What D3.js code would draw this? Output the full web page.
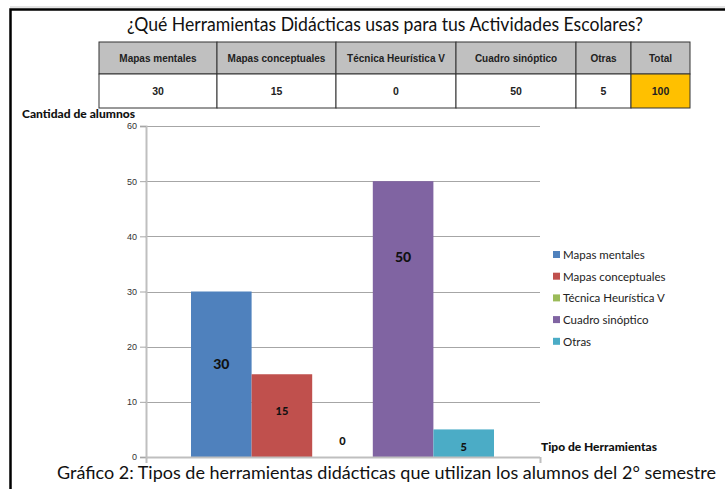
<!DOCTYPE html>
<html>
<head>
<meta charset="utf-8">
<script src="https://cdn.jsdelivr.net/npm/d3@7"></script>
<style>
  body { margin: 0; background: #fff; }
  svg { display: block; }
</style>
</head>
<body>
<div class="chart"></div>
<script>
var categories = ["Mapas mentales", "Mapas conceptuales", "Técnica Heurística V", "Cuadro sinóptico", "Otras"],
    values = [30, 15, 0, 50, 5],
    total = 100,
    // where each value label sits, in axis units (placed by hand in the original)
    labelAt = [16.8, 8.5, 3.1, 36.2, 2],
    colors = ["#4f81bd", "#c0504d", "#9bbb59", "#8064a2", "#4bacc6"],
    yTicks = [0, 10, 20, 30, 40, 50, 60],
    colWidths = [118, 119, 120, 120, 55, 59]

var width = 725,
    height = 489,
    plot = {top: 126, bottom: 457, left: 146, right: 540},
    svg = d3.select(".chart").append("svg")
      .attr("width", width)
      .attr("height", height)

// frame
svg.append("line").attr("x1", 10).attr("x2", width).attr("y1", 7).attr("y2", 7)
  .style("stroke", "#c8c8c8").style("stroke-width", 1)
svg.append("path").attr("d", "M10.5," + height + "V9.5H" + width)
  .style("fill", "none").style("stroke", "#000").style("stroke-width", 2.5)

svg.append("text")
  .text("¿Qué Herramientas Didácticas usas para tus Actividades Escolares?")
  .attr("x", 127).attr("y", 31)
  .attr("textLength", 516).attr("lengthAdjust", "spacingAndGlyphs")
  .attr("font-family", "Lato")
  .attr("font-size", "18.5px")
  .style("fill", "#111")

// table
var tableX = 99, tableY = 42, headH = 32, rowH = 34
var colX = [tableX]
colWidths.forEach(function(w, i) { colX.push(colX[i] + w) })
var headers = categories.concat(["Total"]),
    cells = values.concat([total])

var table = svg.append("g").attr("class", "table")
headers.forEach(function(h, i) {
  table.append("rect")
    .attr("x", colX[i]).attr("y", tableY)
    .attr("width", colWidths[i]).attr("height", headH)
    .style("fill", "#c0c0c0").style("stroke", "#333").style("stroke-width", 1)
  table.append("rect")
    .attr("x", colX[i]).attr("y", tableY + headH)
    .attr("width", colWidths[i]).attr("height", rowH)
    .style("fill", i == headers.length - 1 ? "#ffc000" : "#fff")
    .style("stroke", "#333").style("stroke-width", 1)
  table.append("text").text(h)
    .attr("x", colX[i] + colWidths[i] / 2).attr("y", tableY + headH / 2 + 4)
    .attr("text-anchor", "middle")
    .attr("font-family", "Liberation Sans Narrow, Arial Narrow, Liberation Sans")
    .attr("font-weight", "bold")
    .attr("font-size", "10px")
    .style("fill", "#222")
  table.append("text").text(cells[i])
    .attr("x", colX[i] + colWidths[i] / 2).attr("y", tableY + headH + rowH / 2 + 4)
    .attr("text-anchor", "middle")
    .attr("font-family", "Liberation Sans Narrow, Arial Narrow, Liberation Sans")
    .attr("font-weight", "bold")
    .attr("font-size", "10.5px")
    .style("fill", "#222")
})

// chart
var y = d3.scaleLinear().domain([0, 60]).range([plot.bottom, plot.top])
var x = d3.scaleBand().domain(categories)
  .range([191, 494])

var grid = svg.append("g").attr("class", "grid")
grid.selectAll("line")
  .data(yTicks.slice(1))
  .enter().append("line")
  .attr("x1", plot.left).attr("x2", plot.right)
  .attr("y1", function(d) { return Math.round(y(d)) + 0.5 })
  .attr("y2", function(d) { return Math.round(y(d)) + 0.5 })
  .style("stroke", "#a6a6a6")

var yAxis = svg.append("g")
  .attr("transform", "translate(" + plot.left + ",0)")
  .call(d3.axisLeft(y).tickValues(yTicks).tickSize(6).tickPadding(3))
yAxis.select(".domain").style("stroke", "#bfbfbf").style("stroke-width", 2)
yAxis.selectAll(".tick line").style("stroke", "#a6a6a6")
yAxis.selectAll("text")
  .attr("font-family", "Liberation Sans")
  .attr("font-size", "9px")
  .style("fill", "#333")

var bars = svg.append("g").attr("class", "bars")
bars.selectAll("rect")
  .data(values)
  .enter().append("rect")
  .attr("x", function(d, i) { return x(categories[i]) })
  .attr("width", x.bandwidth())
  .attr("y", function(d) { return y(d) })
  .attr("height", function(d) { return y(0) - y(d) })
  .style("fill", function(d, i) { return colors[i] })

// x axis line with end ticks
svg.append("line")
  .attr("x1", plot.left).attr("x2", plot.right)
  .attr("y1", y(0) + 0.5).attr("y2", y(0) + 0.5)
  .style("stroke", "#bfbfbf").style("stroke-width", 2)
svg.selectAll(".xtick")
  .data([plot.left, plot.right])
  .enter().append("line")
  .attr("class", "xtick")
  .attr("x1", function(d) { return d + 0.5 }).attr("x2", function(d) { return d + 0.5 })
  .attr("y1", y(0)).attr("y2", y(0) + 6)
  .style("stroke", "#bfbfbf").style("stroke-width", 2)

bars.selectAll(".label")
  .data(values)
  .enter().append("text")
  .attr("class", "label")
  .text(function(d) { return d })
  .attr("x", function(d, i) { return x(categories[i]) + x.bandwidth() / 2 })
  .attr("y", function(d, i) { return y(labelAt[i]) + 5 })
  .attr("text-anchor", "middle")
  .attr("font-family", "Lato")
  .attr("font-weight", "900")
  .attr("font-size", function(d) { return d >= 30 ? "14px" : "11px" })
  .style("fill", "#111")

// legend
var legend = svg.append("g").attr("class", "legend")
  .selectAll("g")
  .data(categories)
  .enter().append("g")
  .attr("transform", function(d, i) { return "translate(553," + (255 + i * 21.7) + ")" })
legend.append("rect")
  .attr("x", 0).attr("y", -4).attr("width", 7).attr("height", 7)
  .style("fill", function(d, i) { return colors[i] })
legend.append("text")
  .text(function(d) { return d })
  .attr("x", 10).attr("y", 4)
  .attr("font-family", "Lato")
  .attr("font-size", "11.5px")
  .style("fill", "#222")

svg.append("text").text("Cantidad de alumnos")
  .attr("x", 22).attr("y", 118)
  .attr("textLength", 113).attr("lengthAdjust", "spacingAndGlyphs")
  .attr("font-family", "Lato").attr("font-weight", "900")
  .attr("font-size", "11.5px")
  .style("fill", "#111")

svg.append("text").text("Tipo de Herramientas")
  .attr("x", 541).attr("y", 451)
  .attr("textLength", 116).attr("lengthAdjust", "spacingAndGlyphs")
  .attr("font-family", "Lato").attr("font-weight", "900")
  .attr("font-size", "11px")
  .style("fill", "#111")

svg.append("text")
  .text("Gráfico 2: Tipos de herramientas didácticas que utilizan los alumnos del 2° semestre")
  .attr("x", 57).attr("y", 479)
  .attr("textLength", 659).attr("lengthAdjust", "spacingAndGlyphs")
  .attr("font-family", "Lato")
  .attr("font-size", "17.5px")
  .style("fill", "#111")
</script>
</body>
</html>
